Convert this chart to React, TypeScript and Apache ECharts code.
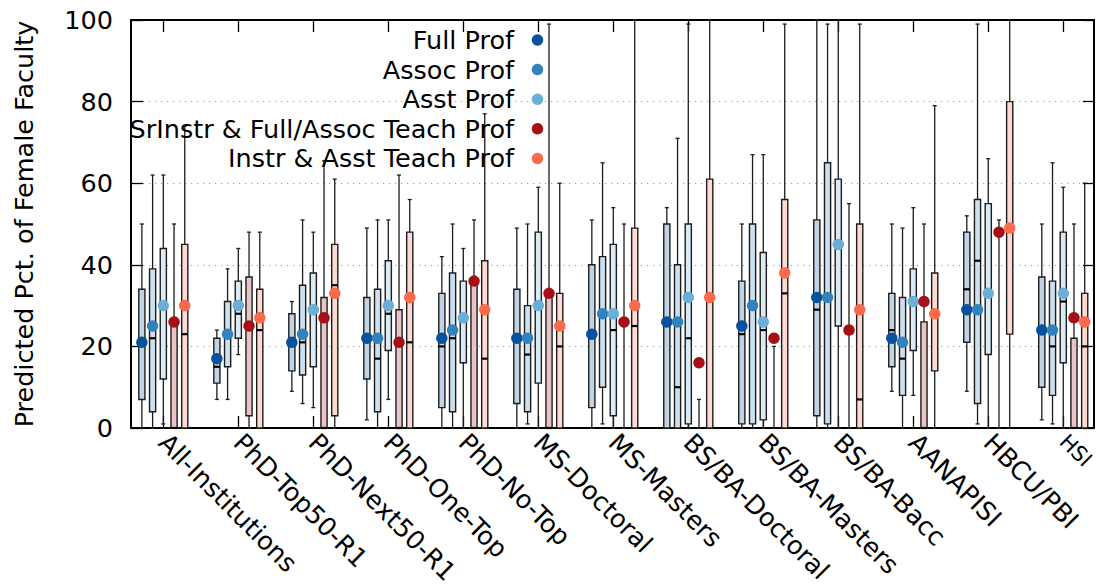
import React, { useEffect, useRef } from "react";
import * as echarts from "echarts";

const categories = [
  "All-Institutions",
  "PhD-Top50-R1",
  "PhD-Next50-R1",
  "PhD-One-Top",
  "PhD-No-Top",
  "MS-Doctoral",
  "MS-Masters",
  "BS/BA-Doctoral",
  "BS/BA-Masters",
  "BS/BA-Bacc",
  "AANAPISI",
  "HBCU/PBI",
  "HSI",
];

const seriesNames = [
  "Full Prof",
  "Assoc Prof",
  "Asst Prof",
  "SrInstr & Full/Assoc Teach Prof",
  "Instr & Asst Teach Prof",
];

const seriesColors = ["#08519c", "#3182bd", "#6baed6", "#a50f15", "#fb6a4a"];

const yTicks = [0, 20, 40, 60, 80, 100];

// [whiskerLow, q1, median, q3, whiskerHigh]
const fullProfBox = [
  [0, 7, 21, 34, 50],
  [7, 11, 15, 22, 24],
  [9, 14, 21, 28, 31],
  [2, 12, 22, 32, 49],
  [0, 5, 20, 33, 42],
  [0, 6, 22, 34, 49],
  [0, 5, 23, 40, 51],
  [0, 0, 26, 50, 54],
  [0, 1, 23, 36, 50],
  [0, 3, 29, 51, 100],
  [9, 15, 24, 33, 50],
  [9, 21, 34, 48, 52],
  [2, 10, 24, 37, 50],
];
const fullProfPoint = [21, 17, 21, 22, 22, 22, 23, 26, 25, 32, 22, 29, 24];

const assocProfBox = [
  [0, 4, 22, 39, 62],
  [7, 15, 23, 31, 39],
  [6, 13, 21, 35, 51],
  [0, 4, 17, 34, 51],
  [0, 4, 22, 38, 50],
  [1, 4, 18, 30, 50],
  [1, 10, 28, 42, 65],
  [0, 0, 10, 40, 71],
  [0, 1, 30, 50, 67],
  [0, 1, 32, 65, 99],
  [0, 8, 17, 32, 49],
  [1, 6, 41, 56, 99],
  [1, 8, 20, 36, 65],
];
const assocProfPoint = [25, 23, 23, 22, 24, 22, 28, 26, 30, 32, 21, 29, 24];

const asstProfBox = [
  [1, 12, 30, 44, 62],
  [18, 22, 28, 36, 44],
  [5, 15, 29, 38, 48],
  [7, 19, 28, 41, 51],
  [0, 16, 27, 36, 44],
  [0, 11, 30, 48, 59],
  [0, 3, 24, 45, 54],
  [0, 1, 22, 50, 99],
  [0, 2, 24, 43, 67],
  [0, 25, 45, 61, 100],
  [8, 19, 31, 39, 54],
  [0, 18, 33, 55, 66],
  [0, 16, 31, 48, 59],
];
const asstProfPoint = [30, 30, 29, 30, 27, 30, 28, 32, 26, 45, 31, 33, 33];

const srInstrBox = [
  [0, 0, 0, 26.5, 50],
  [0, 3, 25, 37, 48],
  [0, 0, 0, 32, 65.5],
  [0, 0, 0, 29, 62],
  [0, 0, 0, 36.5, 51],
  [0, 0, 0, 33.5, 99],
  [0, null, null, null, 50],
  [0, null, null, null, 7],
  [0, null, null, null, 20],
  [0, null, null, null, 55],
  [0, 0, 0, 26, 50],
  [0, null, null, null, 51],
  [0, 0, 0, 22, 50],
];
const srInstrPoint = [26, 25, 27, 21, 36, 33, 26, 16, 22, 24, 31, 48, 27];

const instrBox = [
  [0, 0, 23, 45, 74],
  [0, 0, 24, 34, 48],
  [0, 3, 35, 45, 61],
  [0, 0, 21, 48, 56],
  [0, 0, 17, 41, 77],
  [0, 0, 20, 33, 60],
  [0, 0, 25, 49, 100],
  [0, 0, 32, 61, 100],
  [0, 0, 33, 56, 99],
  [0, 0, 7, 50, 99],
  [0, 14, 28, 38, 79],
  [0, 23, 49, 80, 100],
  [0, 0, 20, 33, 60],
];
const instrPoint = [30, 27, 33, 32, 29, 25, 30, 32, 38, 29, 28, 49, 26];

const allBoxes = [fullProfBox, assocProfBox, asstProfBox, srInstrBox, instrBox];
const allPoints = [fullProfPoint, assocProfPoint, asstProfPoint, srInstrPoint, instrPoint];

const FONT = '"DejaVu Sans", "Liberation Sans", sans-serif';
const FS = 25.5;
const SLOT = 0.143; // horizontal spacing of the 5 boxes within a category (axis units)
const BOX_W = 0.082; // box width in axis units

// colour blended with white (opaque tint)
function tint(hex: string, a: number) {
  const r = parseInt(hex.slice(1, 3), 16);
  const g = parseInt(hex.slice(3, 5), 16);
  const b = parseInt(hex.slice(5, 7), 16);
  const m = (c: number) => Math.round(c * a + 255 * (1 - a));
  return `rgb(${m(r)},${m(g)},${m(b)})`;
}

const ok = (v: any) => v !== null && v !== undefined && v !== "-" && !isNaN(v);

function makeRenderItem(sIdx: number) {
  const fill = tint(seriesColors[sIdx], 0.25);
  return (params: any, api: any) => {
    const cat = api.value(0);
    const off = (sIdx - 2) * SLOT;
    const xc = api.coord([cat + off, 0])[0];
    const bw = api.size([BOX_W, 0])[0];
    const yOf = (v: number) => api.coord([0, v])[1];
    const wlo = api.value(1);
    const q1 = api.value(2);
    const med = api.value(3);
    const q3 = api.value(4);
    const whi = api.value(5);
    const stroke = { stroke: "#1c1c1c", lineWidth: 1.3 };
    const children: any[] = [];
    children.push({
      type: "line",
      shape: { x1: xc, y1: yOf(wlo), x2: xc, y2: yOf(whi) },
      style: stroke,
    });
    children.push({
      type: "line",
      shape: { x1: xc - 2, y1: yOf(whi), x2: xc + 2, y2: yOf(whi) },
      style: stroke,
    });
    children.push({
      type: "line",
      shape: { x1: xc - 2, y1: yOf(wlo), x2: xc + 2, y2: yOf(wlo) },
      style: stroke,
    });
    if (ok(q1) && ok(q3)) {
      const yTop = yOf(q3);
      const yBot = yOf(q1);
      children.push({
        type: "rect",
        shape: { x: xc - bw / 2, y: yTop, width: bw, height: yBot - yTop },
        style: { fill, stroke: "#1c1c1c", lineWidth: 1.4 },
      });
      if (ok(med)) {
        children.push({
          type: "line",
          shape: { x1: xc - bw / 2, y1: yOf(med), x2: xc + bw / 2, y2: yOf(med) },
          style: { stroke: "#000", lineWidth: 2.2 },
        });
      }
    }
    return { type: "group", children };
  };
}

export default function App() {
  const ref = useRef<HTMLDivElement>(null);

  useEffect(() => {
    if (!ref.current) return;
    const chart = echarts.init(ref.current, null, { renderer: "svg" });

    const catIdx = categories.map((_, i) => i);

    const boxSeries = allBoxes.map((boxes, s) => ({
      type: "custom",
      name: seriesNames[s],
      renderItem: makeRenderItem(s),
      data: boxes.map((b, i) => [i, ...b.map((v) => (v === null ? "-" : v))]),
      encode: { x: 0, y: [1, 5] },
      z: 2,
      clip: false,
      silent: true,
    }));

    const pointSeries = allPoints.map((pts, s) => ({
      type: "scatter",
      name: seriesNames[s],
      data: pts.map((v, i) => [i + (s - 2) * SLOT, v]),
      symbol: "circle",
      symbolSize: 11.5,
      itemStyle: { color: seriesColors[s], opacity: 1 },
      z: 5,
      silent: true,
    }));

    const legendGraphics: any[] = [];
    seriesNames.forEach((n, i) => {
      const cy = 40 + i * 29.6;
      legendGraphics.push({
        type: "text",
        x: 514,
        y: cy,
        z: 100,
        style: {
          text: n,
          font: `${FS}px ${FONT}`,
          fill: "#000",
          align: "right",
          verticalAlign: "middle",
        },
      });
      legendGraphics.push({
        type: "circle",
        z: 100,
        shape: { cx: 537.5, cy, r: 5.75 },
        style: { fill: seriesColors[i] },
      });
    });

    const axisLineStyle = { color: "#000", width: 2 };
    const tickStyle = { color: "#000", width: 1.3 };
    const last = categories.length - 1;

    chart.setOption({
      animation: false,
      backgroundColor: "#fff",
      grid: {
        left: 131,
        right: 2,
        top: 20,
        bottom: 160,
        containLabel: false,
        outerBoundsMode: "none",
      },
      xAxis: [
        {
          type: "value",
          position: "bottom",
          min: -0.431,
          max: 12.41,
          axisLine: { show: true, onZero: false, lineStyle: axisLineStyle },
          axisTick: {
            show: true,
            inside: true,
            length: 12,
            customValues: catIdx,
            lineStyle: tickStyle,
          },
          axisLabel: {
            show: true,
            customValues: catIdx,
            formatter: (v: number) => {
              const i = Math.round(v);
              const t = categories[i] ?? "";
              return i === last ? `{s|${t}}` : t;
            },
            rich: { s: { fontSize: 21, fontFamily: FONT, color: "#000" } },
            rotate: -45,
            margin: 10,
            fontSize: FS,
            fontFamily: FONT,
            color: "#000",
          },
          splitLine: { show: false },
        },
        {
          type: "value",
          position: "top",
          min: -0.431,
          max: 12.41,
          axisLine: { show: true, onZero: false, lineStyle: axisLineStyle },
          axisTick: {
            show: true,
            inside: true,
            length: 12,
            customValues: catIdx,
            lineStyle: tickStyle,
          },
          axisLabel: { show: false },
          splitLine: { show: false },
        },
      ],
      yAxis: [
        {
          type: "value",
          position: "left",
          min: 0,
          max: 100,
          interval: 20,
          axisLine: { show: true, onZero: false, lineStyle: axisLineStyle },
          axisTick: { show: true, inside: true, length: 12, lineStyle: tickStyle },
          axisLabel: {
            fontSize: FS,
            fontFamily: FONT,
            color: "#000",
            margin: 18,
            customValues: yTicks,
          },
          splitLine: {
            show: true,
            lineStyle: { color: "#9a9a9a", width: 1, type: [1.2, 4.8] },
          },
          name: "Predicted Pct. of Female Faculty",
          nameLocation: "middle",
          nameGap: 94,
          nameTextStyle: { fontSize: FS, fontFamily: FONT, color: "#000" },
        },
        {
          type: "value",
          position: "right",
          min: 0,
          max: 100,
          interval: 20,
          axisLine: { show: true, onZero: false, lineStyle: axisLineStyle },
          axisTick: { show: true, inside: true, length: 11, lineStyle: tickStyle },
          axisLabel: { show: false },
          splitLine: { show: false },
        },
      ],
      series: [...boxSeries, ...pointSeries],
      graphic: legendGraphics,
    });

    return () => chart.dispose();
  }, []);

  return (
    <div
      ref={ref}
      style={{ position: "absolute", left: 0, top: 0, width: 1096, height: 588 }}
    />
  );
}
